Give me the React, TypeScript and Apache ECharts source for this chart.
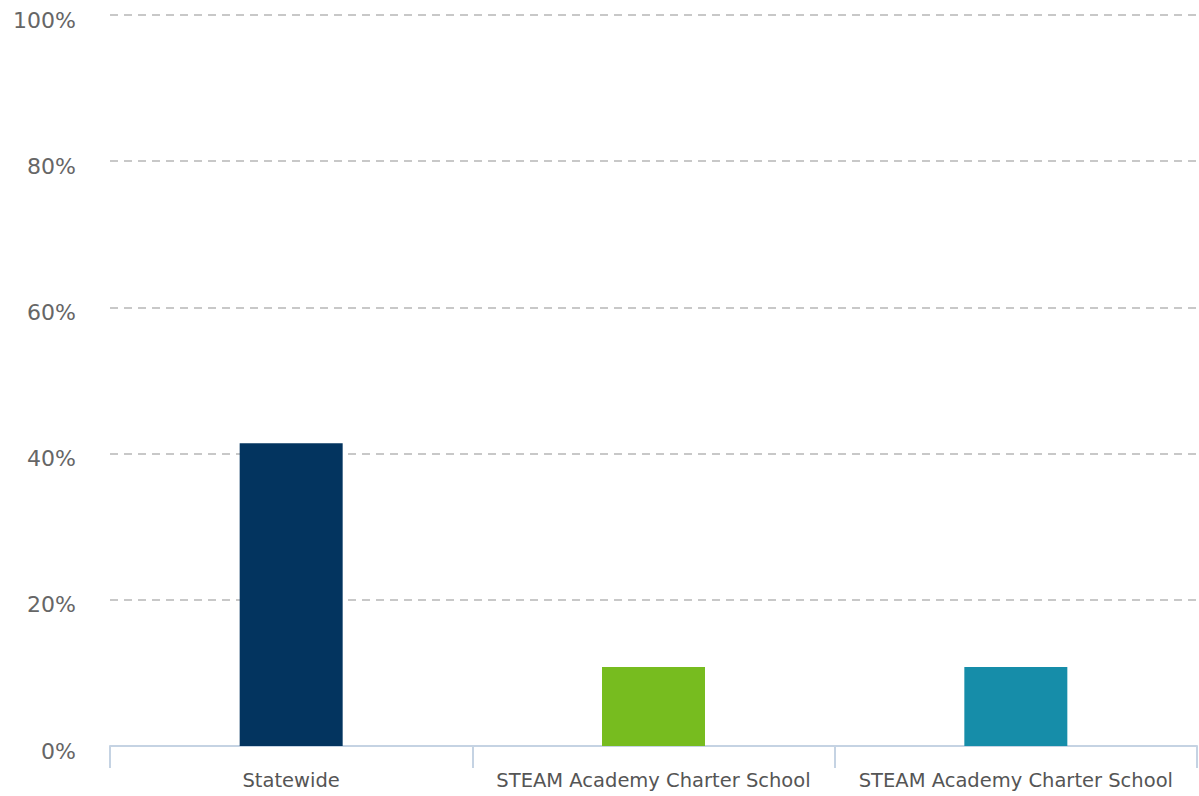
import React, { useEffect, useRef } from "react";
import * as echarts from "echarts";

const categories = ["Statewide", "STEAM Academy Charter School", "STEAM Academy Charter School"];
const values = [41.4, 10.8, 10.8];
const barColors = ["#03345f", "#77bc1f", "#168da9"];
const yTicks = [0, 20, 40, 60, 80, 100];

export default function App() {
  const ref = useRef<HTMLDivElement>(null);
  useEffect(() => {
    if (!ref.current) return;
    const chart = echarts.init(ref.current, null, { renderer: "svg" });
    chart.setOption({
      animation: false,
      grid: { left: 110, right: 2, top: 15, bottom: 50, containLabel: false },
      xAxis: {
        type: "category",
        data: categories,
        boundaryGap: true,
        axisLine: { lineStyle: { color: "#c5d3e3", width: 2 } },
        axisTick: { show: true, interval: 0, length: 22, lineStyle: { color: "#c5d3e3", width: 2 } },
        axisLabel: { interval: 0, hideOverlap: false, color: "#555", fontFamily: "DejaVu Sans", fontSize: 19.5, margin: 24 },
      },
      yAxis: {
        type: "value",
        min: yTicks[0],
        max: yTicks[yTicks.length - 1],
        interval: 20,
        axisLine: { show: false },
        axisTick: { show: false },
        axisLabel: {
          formatter: (v: number) => v + "%",
          color: "#666",
          fontFamily: "DejaVu Sans",
          fontSize: 22,
          margin: 34,
          verticalAlign: "top",
          lineHeight: 10,
        },
        splitLine: { lineStyle: { color: "#c8c8c8", type: [8, 6], width: 2 } },
      },
      series: [
        {
          type: "bar",
          barWidth: 103,
          data: values.map((v, i) => ({ value: v, itemStyle: { color: barColors[i] } })),
        },
      ],
    });
    return () => chart.dispose();
  }, []);
  return (
    <div
      ref={ref}
      style={{ position: "absolute", left: 0, top: 0, width: 1199, height: 796, background: "#fff" }}
    />
  );
}
